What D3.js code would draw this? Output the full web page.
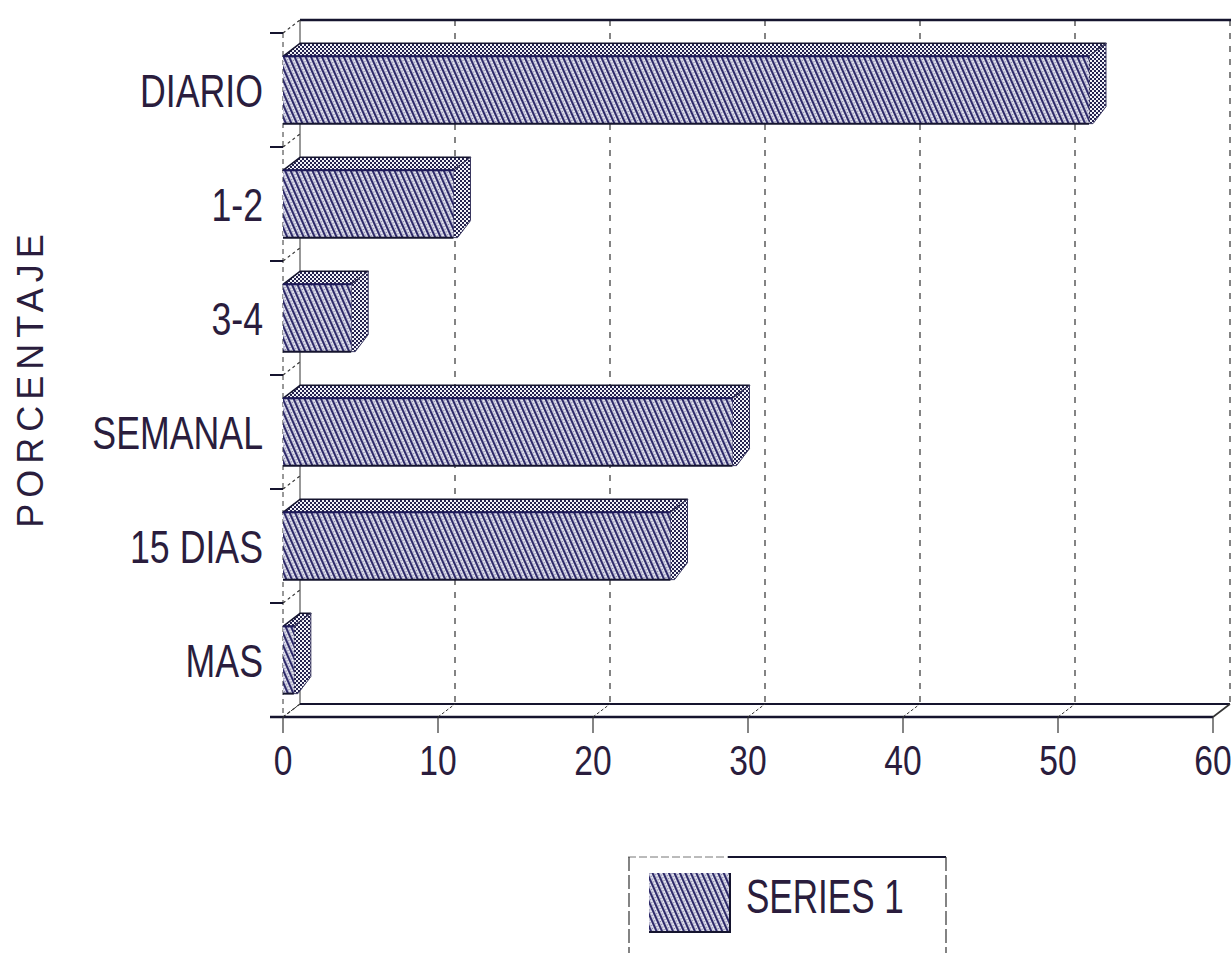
<!DOCTYPE html>
<html>
<head>
<meta charset="utf-8">
<script src="https://cdn.jsdelivr.net/npm/d3@7/dist/d3.min.js"></script>
<style>
  html, body { margin: 0; padding: 0; background: #ffffff; }
  svg { display: block; }
  text { font-family: "Liberation Sans", Arial, sans-serif; fill: #2a1d3d; }
</style>
</head>
<body>
<script>
// Frequency categories (top to bottom) and their percentages
const categories = ["DIARIO", "1-2", "3-4", "SEMANAL", "15 DIAS", "MAS"];
const values = [52, 11, 4.4, 29, 25, 0.7];
const xTickValues = [0, 10, 20, 30, 40, 50, 60];
const seriesName = "SERIES 1";
const yTitle = "PORCENTAJE";

const W = 1231, H = 953;
const DX = 17, DY = -13;          // depth offset of the 3D box
const ink = "#15142e", hatchInk = "#2e2a6a";

const svg = d3.select("body").append("svg")
  .attr("width", W).attr("height", H);

// ---- fill patterns -------------------------------------------------------
const defs = svg.append("defs");
const hatch = defs.append("pattern")
  .attr("id", "hatch").attr("patternUnits", "userSpaceOnUse")
  .attr("width", 5).attr("height", 6)
  .attr("patternTransform", "rotate(-24)");
hatch.append("rect").attr("width", 5).attr("height", 6).attr("fill", "#e4e4f0");
hatch.append("rect").attr("x", 0).attr("width", 2.2).attr("height", 6).attr("fill", hatchInk);
hatch.append("rect").attr("x", 3.2).attr("y", 0).attr("width", 1).attr("height", 1).attr("fill", "#6a6890");
hatch.append("rect").attr("x", 3.2).attr("y", 3).attr("width", 1).attr("height", 1).attr("fill", "#6a6890");

const checker = defs.append("pattern")
  .attr("id", "checker").attr("patternUnits", "userSpaceOnUse")
  .attr("width", 4).attr("height", 4);
checker.append("rect").attr("width", 4).attr("height", 4).attr("fill", "#f2f2f8");
checker.append("rect").attr("width", 2).attr("height", 2).attr("fill", "#24224e");
checker.append("rect").attr("x", 2).attr("y", 2).attr("width", 2).attr("height", 2).attr("fill", "#24224e");

// ---- scales --------------------------------------------------------------
const x = d3.scaleLinear().domain([0, 60]).range([283, 1213]);
const y = d3.scaleBand().domain(categories).range([33, 717])
  .paddingInner(0.41).paddingOuter(0.205);
const yTop = y.range()[0], yBot = y.range()[1];
const bandEdges = categories.map(c => y(c) - y.step() * y.paddingInner() / 2).concat([yBot]);

const g = svg.append("g");

// ---- back wall gridlines -------------------------------------------------
g.selectAll("line.grid").data(xTickValues.slice(1)).join("line")
  .attr("x1", d => x(d) + DX).attr("x2", d => x(d) + DX)
  .attr("y1", yTop + DY).attr("y2", yBot + DY)
  .attr("stroke", "#333").attr("stroke-width", 1.2)
  .attr("stroke-dasharray", "6,7");

// back top edge
g.append("line")
  .attr("x1", x(0) + DX).attr("x2", W).attr("y1", yTop + DY).attr("y2", yTop + DY)
  .attr("stroke", ink).attr("stroke-width", 2.5);
// back-left vertical edge
g.append("line")
  .attr("x1", x(0) + DX).attr("x2", x(0) + DX).attr("y1", yTop + DY).attr("y2", yBot + DY)
  .attr("stroke", "#333").attr("stroke-width", 1);
// front-left vertical edge
g.append("line")
  .attr("x1", x(0)).attr("x2", x(0)).attr("y1", yTop).attr("y2", yBot)
  .attr("stroke", "#333").attr("stroke-width", 1).attr("stroke-dasharray", "5,4");

// category dividers on the left wall
g.selectAll("line.cdiag").data(bandEdges).join("line")
  .attr("x1", x(0)).attr("y1", d => d).attr("x2", x(0) + DX).attr("y2", d => d + DY)
  .attr("stroke", "#333").attr("stroke-width", 1.2).attr("stroke-dasharray", "3,3");
g.selectAll("line.ctick").data(bandEdges).join("line")
  .attr("x1", x(0) - 13).attr("x2", x(0)).attr("y1", d => d).attr("y2", d => d)
  .attr("stroke", ink).attr("stroke-width", 2);

// floor
g.append("line")
  .attr("x1", x(0) + DX).attr("x2", x(60) + DX).attr("y1", yBot + DY).attr("y2", yBot + DY)
  .attr("stroke", ink).attr("stroke-width", 2);
g.append("line")
  .attr("x1", x(0) - 13).attr("x2", x(60)).attr("y1", yBot).attr("y2", yBot)
  .attr("stroke", ink).attr("stroke-width", 2.5);
g.selectAll("line.fdiag").data(xTickValues).join("line")
  .attr("x1", d => x(d)).attr("y1", yBot).attr("x2", d => x(d) + DX).attr("y2", yBot + DY)
  .attr("stroke", "#333").attr("stroke-width", d => d === 60 ? 1.6 : 1)
  .attr("stroke-dasharray", d => d === 60 ? null : "3,2");
g.selectAll("line.xtick").data(xTickValues).join("line")
  .attr("x1", d => x(d)).attr("x2", d => x(d)).attr("y1", yBot).attr("y2", yBot + 16)
  .attr("stroke", "#333").attr("stroke-width", 1.2);

// ---- bars ----------------------------------------------------------------
const data = categories.map((c, i) => ({ c, v: values[i] }));
const bars = g.selectAll("g.bar").data(data).join("g").attr("class", "bar");

// top face
bars.append("path")
  .attr("d", d => {
    const y0 = y(d.c), x0 = x(0), x1 = x(d.v);
    return `M${x0},${y0}L${x1},${y0}L${x1 + DX},${y0 + DY}L${x0 + DX},${y0 + DY}Z`;
  })
  .attr("fill", "url(#checker)").attr("stroke", ink).attr("stroke-width", 1.5)
  .attr("stroke-linejoin", "round");
// side face
bars.append("path")
  .attr("d", d => {
    const y0 = y(d.c), y1 = y0 + y.bandwidth(), x1 = x(d.v);
    return `M${x1},${y0}L${x1 + DX},${y0 + DY}L${x1 + DX},${y1 + DY - 4}L${x1 + 4},${y1}L${x1},${y1}Z`;
  })
  .attr("fill", "url(#checker)").attr("stroke", "#3a3860").attr("stroke-width", 1);
// front face
bars.append("rect")
  .attr("x", x(0)).attr("y", d => y(d.c))
  .attr("width", d => x(d.v) - x(0)).attr("height", y.bandwidth())
  .attr("fill", "url(#hatch)");
bars.append("line")
  .attr("x1", x(0)).attr("x2", d => x(d.v)).attr("y1", d => y(d.c)).attr("y2", d => y(d.c))
  .attr("stroke", "#1e1a5a").attr("stroke-width", 2);
bars.append("line")
  .attr("x1", x(0)).attr("x2", d => x(d.v))
  .attr("y1", d => y(d.c) + y.bandwidth()).attr("y2", d => y(d.c) + y.bandwidth())
  .attr("stroke", ink).attr("stroke-width", 2);

// ---- text ----------------------------------------------------------------
// category labels
svg.selectAll("g.clabel").data(categories).join("g")
  .attr("transform", c => `translate(263,${y(c) + y.bandwidth() / 2 + 17}) scale(0.76,1)`)
  .append("text").attr("text-anchor", "end").attr("font-size", 47).text(c => c);

// value axis labels
svg.selectAll("g.xlabel").data(xTickValues).join("g")
  .attr("transform", d => `translate(${x(d)},775) scale(0.8,1)`)
  .append("text").attr("text-anchor", "middle").attr("font-size", 42).text(d => d);

// axis title
svg.append("g").attr("transform", "translate(43,378) rotate(-90)")
  .append("text").attr("text-anchor", "middle").attr("font-size", 36)
  .attr("letter-spacing", 6).text(yTitle);

// ---- legend --------------------------------------------------------------
const lg = svg.append("g");
lg.append("line").attr("x1", 628).attr("x2", 728).attr("y1", 857).attr("y2", 857)
  .attr("stroke", "#777").attr("stroke-width", 1).attr("stroke-dasharray", "8,3");
lg.append("line").attr("x1", 728).attr("x2", 946).attr("y1", 857).attr("y2", 857)
  .attr("stroke", ink).attr("stroke-width", 2);
lg.append("line").attr("x1", 629).attr("x2", 629).attr("y1", 857).attr("y2", H)
  .attr("stroke", "#333").attr("stroke-width", 1.2).attr("stroke-dasharray", "14,4");
lg.append("line").attr("x1", 946).attr("x2", 946).attr("y1", 857).attr("y2", H)
  .attr("stroke", "#333").attr("stroke-width", 1.2).attr("stroke-dasharray", "14,4");
lg.append("rect").attr("x", 649).attr("y", 873).attr("width", 81).attr("height", 59)
  .attr("fill", "url(#hatch)");
lg.append("path").attr("d", "M730,873L730,932L649,932")
  .attr("fill", "none").attr("stroke", ink).attr("stroke-width", 2);
lg.append("g").attr("transform", "translate(746,913) scale(0.73,1)")
  .append("text").attr("font-size", 48).text(seriesName);
</script>
</body>
</html>
